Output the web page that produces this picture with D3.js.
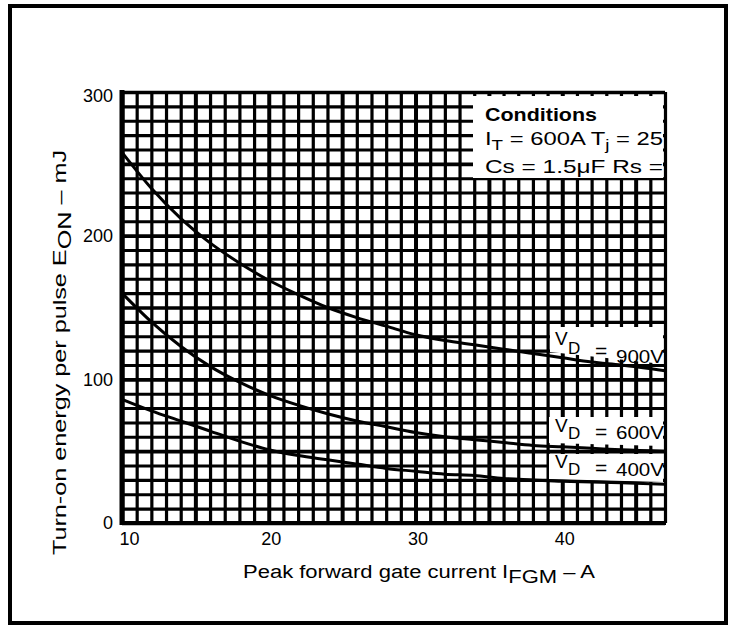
<!DOCTYPE html>
<html lang="en">
<head>
<meta charset="UTF-8">
<title>Turn-on energy per pulse</title>
<script src="https://d3js.org/d3.v7.min.js"></script>
<style>
  body { margin: 0; background: #fff; }
  svg { display: block; font-family: "Liberation Sans", Arial, sans-serif; }
</style>
</head>
<body>
<svg id="chart"></svg>
<script>
const width = 735, height = 626;

// ---- data ----
const xTicks = [10, 20, 30, 40];
const yTicks = [0, 100, 200, 300];
const gateCurrent = [10, 12, 14, 16, 18, 20, 22, 24, 26, 28, 30, 32, 34, 36, 38, 40, 42, 44, 47];
const eon900 = [258, 233, 212, 195, 181, 169, 159, 150, 143, 137, 131, 127, 124, 121, 118, 115, 112, 110, 106];
const eon600 = [160, 140, 123, 109, 98, 89, 82, 76, 71, 67, 63, 60, 58, 56, 54, 53, 52, 51, 50];
const eon400 = [86, 78, 71, 64, 57, 51, 47, 44, 41, 38, 36, 34, 33, 31, 30, 29, 28.5, 28, 27];
const seriesNames = ["900V", "600V", "400V"];

const svg = d3.select("#chart").attr("width", width).attr("height", height);

// outer frame
svg.append("rect")
  .attr("x", 10).attr("y", 6).attr("width", 716).attr("height", 617)
  .attr("fill", "none").attr("stroke", "#000").attr("stroke-width", 4);

const x = d3.scaleLinear([10, 47], [122, 665]);
const y = d3.scaleLinear([0, 300], [523, 92]);
const plotW = x(47) - x(10), plotH = y(0) - y(300);

// grid (1 A by 10 mJ)
const gx = svg.append("g")
  .attr("transform", `translate(0,${y(0)})`)
  .call(d3.axisBottom(x).tickValues(d3.range(10, 48)).tickSize(-plotH).tickFormat(""));
gx.select(".domain").remove();
gx.selectAll(".tick line")
  .attr("stroke", "#000")
  .attr("stroke-width", d => d % 5 === 0 ? 4 : 3.2);

const gy = svg.append("g")
  .attr("transform", `translate(${x(10)},0)`)
  .call(d3.axisLeft(y).tickValues(d3.range(0, 301, 10)).tickSize(-plotW).tickFormat(""));
gy.select(".domain").remove();
gy.selectAll(".tick line")
  .attr("stroke", "#000")
  .attr("stroke-width", d => d % 50 === 0 ? 3.6 : 3.1);

// heavier left and bottom edges
svg.append("line").attr("x1", x(10)).attr("x2", x(10)).attr("y1", y(300) - 2).attr("y2", y(0) + 2)
  .attr("stroke", "#000").attr("stroke-width", 5);
svg.append("line").attr("x1", x(10)).attr("x2", x(47) + 1).attr("y1", y(0)).attr("y2", y(0))
  .attr("stroke", "#000").attr("stroke-width", 4);

// tick labels
const ax = svg.append("g")
  .attr("transform", `translate(0,${y(0)})`)
  .call(d3.axisBottom(x).tickValues(xTicks).tickSize(0).tickPadding(9));
ax.select(".domain").remove();
ax.selectAll("text")
  .attr("font-size", 18).attr("font-family", "Liberation Sans, Arial, sans-serif")
  .attr("fill", "#000")
  .attr("dx", d => d === 10 ? 7 : 2);

const ay = svg.append("g")
  .attr("transform", `translate(${x(10)},0)`)
  .call(d3.axisLeft(y).tickValues(yTicks).tickSize(0).tickPadding(9));
ay.select(".domain").remove();
ay.selectAll("text")
  .attr("font-size", 18).attr("font-family", "Liberation Sans, Arial, sans-serif")
  .attr("fill", "#000")
  .attr("dy", d => d === 300 ? "0.5em" : "0.32em");

// white label patches
function patch(pts) {
  svg.append("polygon").attr("points", pts.map(p => p.join(",")).join(" ")).attr("fill", "#fff");
}
patch([[473, 96], [663, 96], [663, 178], [473, 178]]);
patch([[550, 327], [663, 327], [663, 364], [550, 352]]);
patch([[549, 417], [663, 417], [663, 446], [549, 443]]);
patch([[549, 454], [663, 454], [663, 482], [549, 479]]);

// curves
const line = d3.line().x((d, i) => x(gateCurrent[i])).y(d => y(d)).curve(d3.curveMonotoneX);
[eon900, eon600, eon400].forEach(s => {
  svg.append("path").attr("d", line(s))
    .attr("fill", "none").attr("stroke", "#000").attr("stroke-width", 3);
});

// conditions block
const cond = svg.append("g").attr("fill", "#000");
cond.append("text").attr("x", 485).attr("y", 121)
  .attr("font-size", 19).attr("font-weight", "bold")
  .attr("textLength", 112).attr("lengthAdjust", "spacingAndGlyphs")
  .text("Conditions");
const t2 = cond.append("text").attr("x", 485).attr("y", 145).attr("font-size", 19)
  .attr("textLength", 178).attr("lengthAdjust", "spacingAndGlyphs");
t2.append("tspan").text("I");
t2.append("tspan").attr("font-size", 15).attr("dy", 5).text("T");
t2.append("tspan").attr("dy", -5).text(" = 600A T");
t2.append("tspan").attr("font-size", 15).attr("dy", 5).text("j");
t2.append("tspan").attr("dy", -5).text(" = 25");
cond.append("text").attr("x", 485).attr("y", 173).attr("font-size", 19)
  .attr("textLength", 178).attr("lengthAdjust", "spacingAndGlyphs")
  .text("Cs = 1.5\u03BCF Rs =");

// curve labels: V, subscript D, "=", value, each with its own baseline
function vdLabel(name, vY, dY, eqY, valY, size) {
  const g = svg.append("g").attr("fill", "#000").attr("font-size", size);
  g.append("text").attr("x", 555).attr("y", vY).text("V");
  g.append("text").attr("x", 568).attr("y", dY).attr("font-size", size - 2).text("D");
  g.append("text").attr("x", 595).attr("y", eqY).attr("font-size", size + 2).text("=");
  g.append("text").attr("x", 616).attr("y", valY)
    .attr("textLength", 48).attr("lengthAdjust", "spacingAndGlyphs").text(name);
}
vdLabel(seriesNames[0], 345, 354, 358, 363, 19);
vdLabel(seriesNames[1], 432, 439, 439, 439, 19);
vdLabel(seriesNames[2], 468, 475, 475, 476, 19);

// axis titles
const xt = svg.append("text").attr("x", 243).attr("y", 578).attr("font-size", 18).attr("fill", "#000")
  .attr("textLength", 352).attr("lengthAdjust", "spacingAndGlyphs");
xt.append("tspan").text("Peak forward gate current I");
xt.append("tspan").attr("dy", 5).text("FGM");
xt.append("tspan").attr("dy", -5).text(" \u2013 A");

const yt = svg.append("text").attr("transform", "translate(66,555) rotate(-90)")
  .attr("font-size", 18).attr("fill", "#000")
  .attr("textLength", 405).attr("lengthAdjust", "spacingAndGlyphs");
yt.append("tspan").text("Turn-on energy per pulse E");
yt.append("tspan").attr("dy", 5).text("ON");
yt.append("tspan").attr("dy", -5).text(" \u2013 mJ");
</script>
</body>
</html>
